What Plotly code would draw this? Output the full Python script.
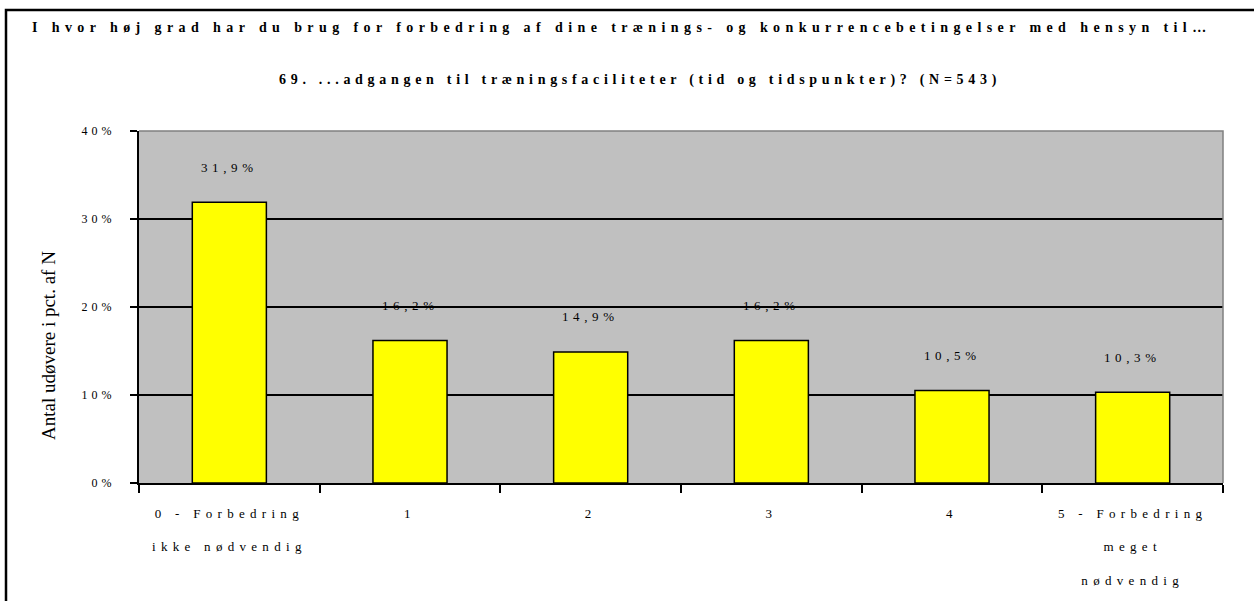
import plotly.graph_objects as go

# Survey answers, item 69
categories = ["0 - Forbedring ikke nødvendig", "1", "2", "3", "4", "5 - Forbedring meget nødvendig"]
tick_lines = [["0 - Forbedring", "ikke nødvendig"], ["1"], ["2"], ["3"], ["4"],
              ["5 - Forbedring", "meget", "nødvendig"]]
values = [31.9, 16.2, 14.9, 16.2, 10.5, 10.3]
y_ticks = [0, 10, 20, 30, 40]

title_1 = "I hvor høj grad har du brug for forbedring af dine trænings- og konkurrencebetingelser med hensyn til…"
title_2 = "69. ...adgangen til træningsfaciliteter (tid og tidspunkter)? (N=543)"
y_title = "Antal udøvere i pct. af N"

SERIF = "Liberation Serif, Times New Roman, serif"


def spaced(s, px, bold=False):
    style = f"letter-spacing:{px}px"
    if bold:
        style += ";font-weight:bold"
    return f'<span style="{style}">{s}</span>'


W, H = 1254, 601
L, R, T, B = 139, 1223, 131, 483
PW, PH = R - L, B - T


def px_x(x):
    return (x - L) / PW


def px_y(y):
    return (B - y) / PH


fig = go.Figure()
fig.add_trace(go.Bar(
    x=categories, y=values,
    marker=dict(color="#FFFF00", line=dict(color="black", width=1.5)),
    width=0.41, hoverinfo="skip",
))

# value labels above each bar
for c, v in zip(categories, values):
    lbl = f"{v:.1f}".replace(".", ",") + "%"
    fig.add_annotation(x=c, y=v, xref="x", yref="y", text=spaced(lbl, 4.6),
                       showarrow=False, yanchor="middle", yshift=35,
                       font=dict(family=SERIF, size=13, color="black"))

ticktext = [spaced("<br><br>".join(lines), 5.3) for lines in tick_lines]

fig.update_xaxes(
    type="category", range=[-0.5, 5.5],
    tickvals=categories, ticktext=ticktext, tickson="boundaries",
    ticks="outside", ticklen=8, tickwidth=1.5, tickcolor="black",
    showline=True, linecolor="black", linewidth=2,
    showgrid=False, ticklabelstandoff=17,
    tickfont=dict(family=SERIF, size=13, color="black"),
)
fig.update_yaxes(
    range=[0, 40], tickvals=y_ticks,
    ticktext=[spaced(f"{t}%", 4) for t in y_ticks],
    ticks="outside", ticklen=7, tickwidth=1.5, tickcolor="black",
    showline=True, linecolor="black", linewidth=2,
    showgrid=True, gridcolor="black", gridwidth=2, zeroline=False,
    ticklabelstandoff=12,
    tickfont=dict(family=SERIF, size=12, color="black"),
)

# title lines
fig.add_annotation(x=px_x(622), y=px_y(27), xref="paper", yref="paper",
                   text=spaced(title_1, 5.4, bold=True), showarrow=False,
                   xanchor="center", yanchor="middle",
                   font=dict(family=SERIF, size=14, color="black"))
fig.add_annotation(x=px_x(640), y=px_y(80), xref="paper", yref="paper",
                   text=spaced(title_2, 4.7, bold=True), showarrow=False,
                   xanchor="center", yanchor="middle",
                   font=dict(family=SERIF, size=14, color="black"))

# y-axis title
fig.add_annotation(x=px_x(48), y=px_y(346), xref="paper", yref="paper",
                   text=y_title, textangle=-90, showarrow=False,
                   xanchor="center", yanchor="middle",
                   font=dict(family=SERIF, size=19, color="black"))

# plot area frame (top and right) and the outer chart border
fig.add_shape(type="path", xref="paper", yref="paper",
              path="M 0 1 L 1 1 L 1 0", line=dict(color="#808080", width=1.5))
fig.add_shape(type="path", xref="paper", yref="paper",
              path=f"M {px_x(6)} {px_y(620)} L {px_x(6)} {px_y(10)} L {px_x(1270)} {px_y(10)}",
              line=dict(color="black", width=2.5))

fig.update_layout(
    width=W, height=H, autosize=False,
    margin=dict(l=L, r=W - R, t=T, b=H - B),
    plot_bgcolor="#C0C0C0", paper_bgcolor="white",
    showlegend=False, bargap=0.59,
)

fig.write_html("out.html", config={"displayModeBar": False})
